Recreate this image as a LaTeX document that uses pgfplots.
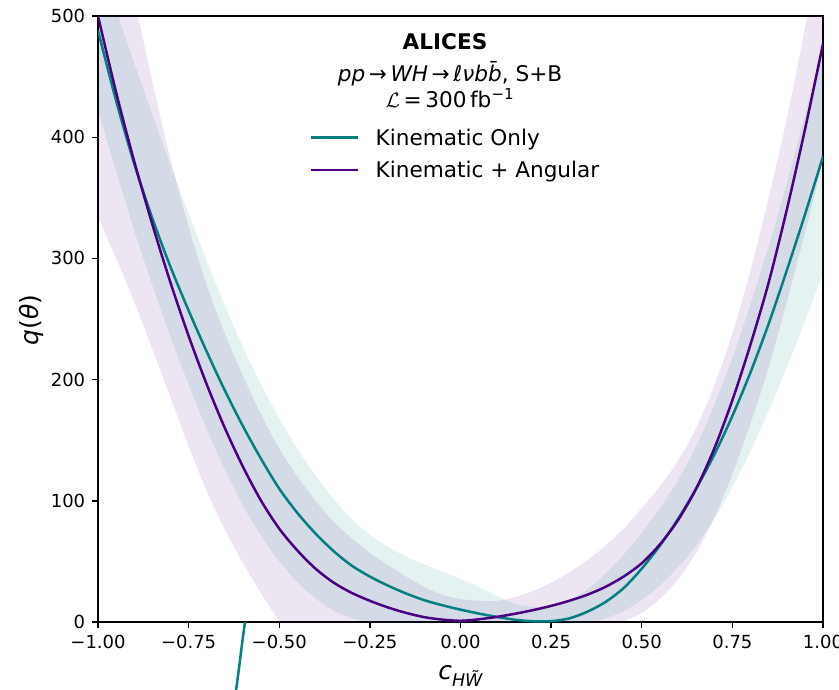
\documentclass[border=0pt]{standalone}
\usepackage{fontspec}
\setmainfont{DejaVu Sans}
\usepackage{pgfplots}
\pgfplotsset{compat=1.18}
\usepackage{pgfplotstable}
\usepgfplotslibrary{fillbetween}
\definecolor{kteal}{RGB}{0,128,128}
\definecolor{kindigo}{RGB}{75,0,130}

\pgfplotstableread{
x     tealC purpC tealLo tealHi purpLo purpHi
-1.00 488   500   422    550    334    668
-0.95 430   437   372    505    300    588
-0.90 378   380   323    461    264    515
-0.85 333   328   278    418.5  225    446
-0.80 293   280   235    377    185    382
-0.75 257   236   196    337    145    326
-0.70 223   196   159    298    108    278
-0.65 191   160   126    261    76     238
-0.60 161.5 128   96     227    48.5   203
-0.55 134.5 100   71     196    23.5   171
-0.50 110   77    50     168    0.5    143
-0.45 90    59    33     143    -20.5  120
-0.40 73    44    19.5   121    -38    100
-0.35 58.5  32.5  9.5    101.5  -52    83
-0.30 46.5  24    3      85     -63    69
-0.25 37.5  17.5  0      72     -71    57
-0.20 30    12    -2     62     -76    47
-0.15 23.5  7.5   -4     54     -79    37.5
-0.10 18    4     -6     47.5   -80    29
-0.05 13.8  2     -7.5   41.5   -79    22.5
0.00  10.2  1     -8.5   35.5   -76    19
0.05  7     2.2   -9     29     -71    17.5
0.10  4.2   4.2   -9     21.5   -64    17.5
0.15  1.9   6.8   -8.5   15     -55    20.5
0.20  0.6   9.8   -7.5   12.5   -45    25.5
0.25  0.7   13.3  -6     13.5   -34    32.5
0.30  3     17.5  -4     18     -23    41
0.35  8.5   22.5  -1     27     -13    51
0.40  16.5  29    3      40     -5.5   63
0.45  28    37.5  9      55.5   0.5    77
0.50  44    48.5  18     73.5   7.5    94
0.55  63    64    30     94     19     112
0.60  85    84    45     117    35     133
0.65  110   110   63     145    57     160
0.70  138   143   85     179    86     195
0.75  170   183   111    218    122    238
0.80  206   229   141    262    164    290
0.85  246   280   174    310    210    350
0.90  290   340   210    362    264    415
0.95  336   406   248    418    321    490
1.00  384   477   288    478    380    570
}\curves

\pgfplotstableread{
x       y
-0.5945 0
-0.6035 -20
-0.6110 -38
-0.6190 -56
}\stray

\begin{document}
\begin{tikzpicture}
\begin{axis}[
  scale only axis, width=725pt, height=606pt,
  xmin=-1, xmax=1, ymin=0, ymax=500,
  xtick={-1,-0.75,-0.5,-0.25,0,0.25,0.5,0.75,1},
  xticklabels={−1.00,−0.75,−0.50,−0.25,0.00,0.25,0.50,0.75,1.00},
  ytick={0,100,200,300,400,500},
  yticklabels={0,100,200,300,400,500},
  tick align=outside, xtick pos=bottom, ytick pos=left,
  major tick length=6.3pt,
  every tick/.style={black, line width=1.4pt},
  axis line style={line width=1.4pt, black},
  ticklabel style={font=\fontsize{18}{21}\selectfont, inner sep=0pt},
  xticklabel shift=6.3pt, yticklabel shift=6.3pt,
  xlabel={\textit{c}\raisebox{-0.28em}{\fontsize{17.5}{20}\selectfont\textit{H\~{W}}}},
  xlabel style={at={(rel axis cs:0.5,-0.0957)}, anchor=base, font=\fontsize{25}{30}\selectfont, inner sep=0pt},
  ylabel={\textit{q}(\textit{θ})},
  ylabel style={at={(rel axis cs:-0.0924,0.498)}, anchor=center, font=\fontsize{25}{30}\selectfont, inner sep=0pt},
  legend style={at={(rel axis cs:0.2924,0.8135)}, anchor=north west, draw=none, fill=none,
    inner sep=0pt, row sep=11.3pt, column sep=16pt,
    nodes={inner sep=0pt, text height=16pt, text depth=5pt, anchor=base west},
    font=\fontsize{21.6}{26}\selectfont},
  legend cell align=left,
  legend image code/.code={\draw[#1, line width=2.5pt] (0pt,7.7pt) -- (47pt,7.7pt);},
]
\addplot[draw=none, name path=tlo, smooth, forget plot] table[x=x, y=tealLo]{\curves};
\addplot[draw=none, name path=thi, smooth, forget plot] table[x=x, y=tealHi]{\curves};
\addplot[draw=none, name path=plo, smooth, forget plot] table[x=x, y=purpLo]{\curves};
\addplot[draw=none, name path=phi, smooth, forget plot] table[x=x, y=purpHi]{\curves};
\addplot[fill=kteal, fill opacity=0.1, draw=none, forget plot] fill between[of=tlo and thi];
\addplot[fill=kindigo, fill opacity=0.1, draw=none, forget plot] fill between[of=plo and phi];
\addplot[kteal, line width=2.5pt, smooth] table[x=x, y=tealC]{\curves};
\addlegendentry{Kinematic Only}
\addplot[kindigo, line width=2.5pt, smooth] table[x=x, y=purpC]{\curves};
\addlegendentry{Kinematic + Angular}
\node[anchor=base, font=\fontsize{21.6}{26}\selectfont\bfseries] at (axis cs:-0.0428,472.5) {ALICES};
\node[anchor=base, font=\fontsize{21.6}{26}\selectfont] at (axis cs:-0.029,445.8)
  {\textit{pp}\,→\,\textit{WH}\,→\,\textit{ℓνb\={b}}, S+B};
\node[anchor=base, font=\fontsize{21.6}{26}\selectfont] at (axis cs:-0.029,424.7)
  {$\mathcal{L}$\,=\,300\,fb\textsuperscript{−1}};
\end{axis}
\begin{axis}[
  scale only axis, width=725pt, height=606pt,
  xmin=-1, xmax=1, ymin=0, ymax=500,
  hide axis, clip=false,
]
\addplot[kteal, line width=2.5pt, smooth] table[x=x, y=y]{\stray};
\end{axis}
\pgfresetboundingbox
\path[use as bounding box] (-98pt,-67pt) rectangle (741pt,622pt);
\end{tikzpicture}
\end{document}
